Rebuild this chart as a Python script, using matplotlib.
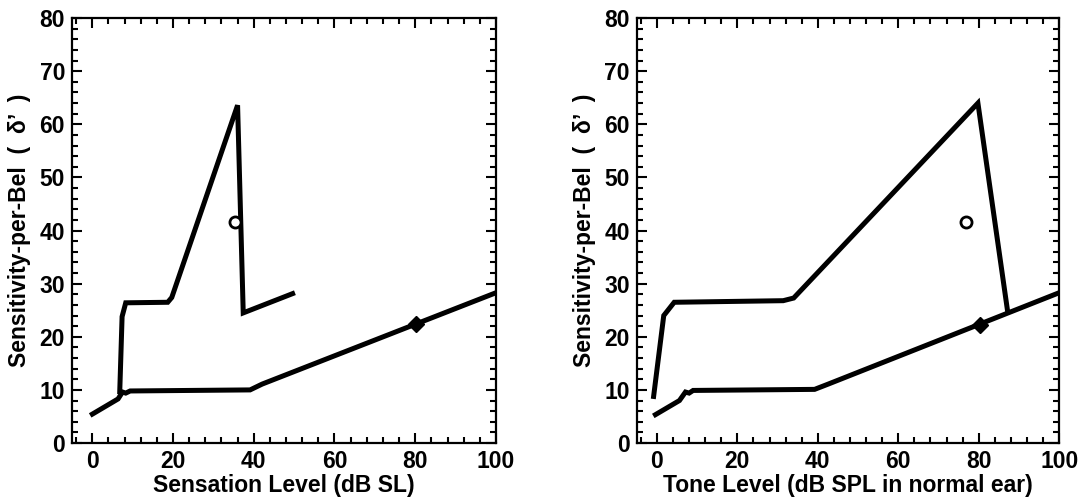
import matplotlib

matplotlib.use("Agg")
import matplotlib.pyplot as plt
from matplotlib.ticker import MultipleLocator

plt.rcParams["font.family"] = ["Liberation Sans", "DejaVu Sans"]
plt.rcParams["font.weight"] = "bold"

# left panel: sensation level
sl_upper_x = [6.8, 7.4, 8.3, 18.7, 19.7, 36.0, 37.4, 50.2]
sl_upper_y = [9.2, 23.8, 26.4, 26.5, 27.4, 63.6, 24.5, 28.3]
sl_lower_x = [-0.5, 6.4, 7.5, 8.3, 9.4, 39.1, 42.1, 100.0]
sl_lower_y = [5.2, 8.3, 9.6, 9.4, 9.8, 10.0, 11.1, 28.3]
sl_circle = (35.3, 41.6)
sl_diamond = (80.2, 22.4)

# right panel: tone level
tl_upper_x = [-0.9, 1.7, 4.3, 31.4, 34.0, 79.8, 87.2]
tl_upper_y = [8.3, 24.0, 26.5, 26.8, 27.3, 64.0, 24.7]
tl_lower_x = [-0.9, 5.6, 7.1, 8.0, 9.0, 39.2, 42.6, 100.0]
tl_lower_y = [5.1, 8.0, 9.6, 9.4, 9.9, 10.1, 11.1, 28.3]
tl_circle = (76.9, 41.7)
tl_diamond = (80.3, 22.3)

xlabels = ["Sensation Level (dB SL)", "Tone Level (dB SPL in normal ear)"]
ylabel = "Sensitivity-per-Bel  (  δ’  )"

fig = plt.figure(figsize=(10.83, 5.04), dpi=100)
ax1 = fig.add_axes([0.0665, 0.121, 0.3915, 0.843])
ax2 = fig.add_axes([0.588, 0.121, 0.390, 0.843])

panels = [
    (ax1, sl_upper_x, sl_upper_y, sl_lower_x, sl_lower_y, sl_circle, sl_diamond),
    (ax2, tl_upper_x, tl_upper_y, tl_lower_x, tl_lower_y, tl_circle, tl_diamond),
]

for i, (ax, ux, uy, lx, ly, circ, diam) in enumerate(panels):
    ax.plot(ux, uy, color="black", lw=3.6, solid_joinstyle="miter", solid_capstyle="butt")
    ax.plot(lx, ly, color="black", lw=3.6, solid_joinstyle="miter", solid_capstyle="butt")
    ax.plot([circ[0]], [circ[1]], marker="o", ms=8, mfc="white", mec="black", mew=2, ls="none")
    ax.plot([diam[0]], [diam[1]], marker="D", ms=8, color="black", ls="none")

    ax.set_xlim(-5, 100)
    ax.set_ylim(0, 80)
    ax.xaxis.set_major_locator(MultipleLocator(20))
    ax.xaxis.set_minor_locator(MultipleLocator(4))
    ax.yaxis.set_major_locator(MultipleLocator(10))
    ax.yaxis.set_minor_locator(MultipleLocator(2))
    ax.tick_params(which="both", direction="in", top=True, right=True, width=1.5)
    ax.tick_params(which="major", length=7, labelsize=16.5, pad=5)
    ax.tick_params(which="minor", length=4)
    for lbl in ax.get_xticklabels() + ax.get_yticklabels():
        lbl.set_fontweight("bold")
    for sp in ax.spines.values():
        sp.set_linewidth(1.6)

    ax.set_xlabel(xlabels[i], fontsize=16.5, fontweight="bold", labelpad=1)
    ax.set_ylabel(ylabel, fontsize=16.5, fontweight="bold", labelpad=6)

fig.savefig("out.png", dpi=100)
plt.close(fig)
